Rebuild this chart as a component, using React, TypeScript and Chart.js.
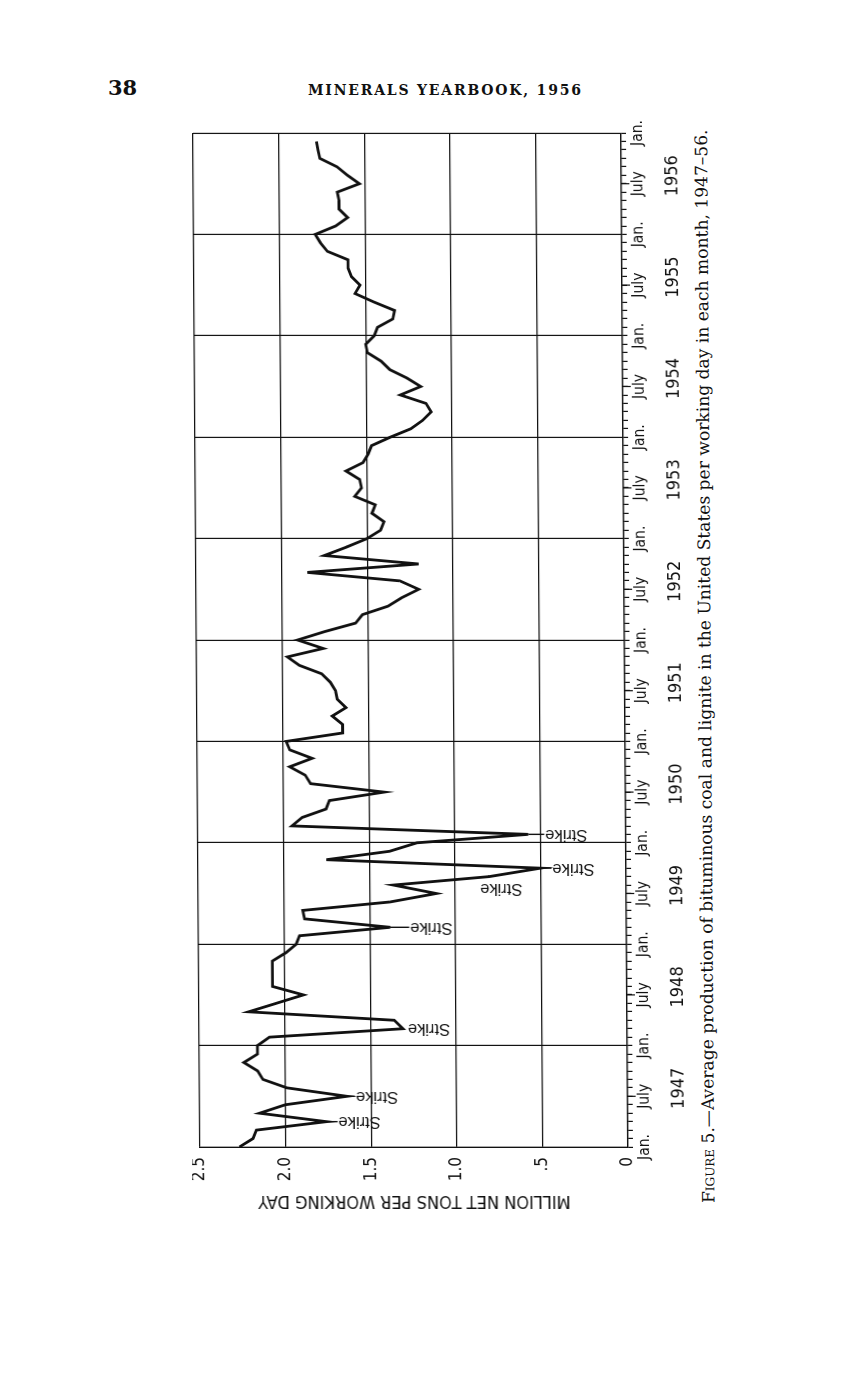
import React, { useEffect, useRef } from 'react';
import { Chart, registerables } from 'chart.js';

Chart.register(...registerables);

// ---- data (million net tons per working day, monthly, Jan 1947 = index 0) ----
const y1947 = [2.27, 2.19, 2.17, 1.76, 2.15, 2.0, 1.64, 1.99, 2.13, 2.16, 2.24, 2.16];
const y1948 = [2.16, 2.09, 1.31, 1.36, 2.21, 2.05, 1.89, 2.07, 2.07, 2.07, 2.07, 1.99];
const y1949 = [1.93, 1.91, 1.38, 1.88, 1.89, 1.38, 1.11, 1.36, 0.8, 0.5, 1.75, 1.38];
const y1950 = [1.22, 0.57, 1.95, 1.89, 1.75, 1.73, 1.41, 1.84, 1.87, 1.96, 1.83, 1.96];
const y1951 = [1.98, 1.65, 1.65, 1.71, 1.63, 1.68, 1.69, 1.72, 1.77, 1.9, 1.97, 1.76];
const y1952 = [1.91, 1.75, 1.57, 1.53, 1.38, 1.3, 1.2, 1.31, 1.85, 1.2, 1.75, 1.62];
const y1953 = [1.5, 1.42, 1.4, 1.47, 1.45, 1.57, 1.53, 1.54, 1.62, 1.52, 1.49, 1.47];
const y1954 = [1.36, 1.24, 1.17, 1.12, 1.15, 1.3, 1.18, 1.26, 1.36, 1.41, 1.49, 1.5];
const y1955 = [1.45, 1.43, 1.34, 1.33, 1.45, 1.56, 1.53, 1.58, 1.6, 1.6, 1.72, 1.76];
const y1956 = [1.79, 1.67, 1.6, 1.65, 1.65, 1.66, 1.53, 1.6, 1.66, 1.76, 1.77, 1.78];

const SERIES = [...y1947, ...y1948, ...y1949, ...y1950, ...y1951, ...y1952, ...y1953, ...y1954, ...y1955, ...y1956];

const YEARS = ['1947', '1948', '1949', '1950', '1951', '1952', '1953', '1954', '1955', '1956'];
const MONTH_NAMES: Record<number, string> = { 0: 'Jan.', 6: 'July' };
const VALUE_TICKS = [0, 0.5, 1, 1.5, 2, 2.5];
const VALUE_LABELS = ['0', '.5', '1.0', '1.5', '2.0', '2.5'];
const STRIKE_MONTHS = [3, 6, 14, 26, 30, 33, 37];
const STRIKE_TEXT = 'Strike';
const AXIS_TITLE = 'MILLION NET TONS PER WORKING DAY';

// ---- layout / style (landscape drawing, then turned a quarter turn) ----
const CW = 1096;
const CH = 496;
const A_L = 70;
const A_T = 8;
const PAD_R = 12;
const X_AXIS_H = 60;
const SKEW_K = 7 / 1014;
const XO = 200 - A_T + SKEW_K * A_L;
const YO = 1147 + A_L;
const INK = '#111';
const NARROW = "'Liberation Sans Narrow', 'DejaVu Sans Condensed', 'Liberation Sans', sans-serif";
const SANS = "'Liberation Sans', Arial, sans-serif";
// per strike label: [dash length, gap, shift along time axis]
const STRIKE_LAYOUT = [
  [11, 1, 0],
  [8, 1, 0],
  [0, 5, 0],
  [19, 1, 0],
  [0, 44, 5],
  [11, 1, 0],
  [16, 1, 0],
];

const MONTH_TICKS = Array.from({ length: 121 }, (_, i) => i);

const annotPlugin = {
  id: 'annot',
  afterDraw(chart: any) {
    const { ctx, chartArea } = chart;
    const xs = chart.scales.x;
    const ys = chart.scales.y;
    ctx.save();
    ctx.fillStyle = INK;
    ctx.strokeStyle = INK;
    // longer tick marks at July
    ctx.lineWidth = 1.2;
    for (let i = 0; i < YEARS.length; i++) {
      const px = xs.getPixelForValue(12 * i + 6);
      ctx.beginPath();
      ctx.moveTo(px, chartArea.bottom);
      ctx.lineTo(px, chartArea.bottom + 8);
      ctx.stroke();
    }
    ctx.lineWidth = 1.4;
    ctx.font = `16.5px ${SANS}`;
    STRIKE_MONTHS.forEach((m, i) => {
      const [dash, gap, shift] = STRIKE_LAYOUT[i];
      const px = xs.getPixelForValue(m) + shift;
      const py = ys.getPixelForValue(SERIES[m]);
      if (dash > 0) {
        ctx.beginPath();
        ctx.moveTo(px, py);
        ctx.lineTo(px, py + dash);
        ctx.stroke();
      }
      ctx.save();
      ctx.translate(px, py + dash + gap);
      ctx.rotate(-Math.PI / 2);
      ctx.textAlign = 'right';
      ctx.textBaseline = 'middle';
      ctx.fillText(STRIKE_TEXT, 0, 0);
      ctx.restore();
    });
    ctx.font = `18px ${NARROW}`;
    ctx.textAlign = 'center';
    ctx.textBaseline = 'top';
    YEARS.forEach((yr, i) => {
      const px = xs.getPixelForValue(12 * i + 6) + 8;
      ctx.fillText(yr, px, chartArea.bottom + 42);
    });
    ctx.restore();
  },
};

export default function App() {
  const ref = useRef<HTMLCanvasElement | null>(null);

  useEffect(() => {
    if (!ref.current) return;
    const chart = new Chart(ref.current, {
      type: 'scatter',
      data: {
        datasets: [
          {
            data: SERIES.map((v, i) => ({ x: i, y: v })),
            showLine: true,
            borderColor: INK,
            borderWidth: 2.8,
            pointRadius: 0,
            pointHoverRadius: 0,
            fill: false,
            tension: 0,
          },
        ],
      },
      options: {
        animation: false,
        responsive: false,
        devicePixelRatio: 1,
        events: [],
        layout: { padding: { left: 0, top: A_T, right: PAD_R, bottom: 0 } },
        plugins: { legend: { display: false }, tooltip: { enabled: false }, title: { display: false } },
        scales: {
          x: {
            type: 'linear',
            position: 'bottom',
            min: 0,
            max: 120,
            afterBuildTicks: (s: any) => {
              s.ticks = MONTH_TICKS.map((v) => ({ value: v }));
            },
            afterFit: (s: any) => {
              s.height = X_AXIS_H;
              s.paddingLeft = 0;
              s.paddingRight = 0;
            },
            ticks: {
              autoSkip: false,
              maxRotation: 0,
              minRotation: 0,
              padding: 3,
              color: INK,
              font: { family: NARROW, size: 15.5 },
              callback: (v: any) => MONTH_NAMES[Number(v) % 12] ?? '',
            },
            grid: {
              color: (c: any) => (c.tick && c.tick.value % 12 === 0 ? INK : 'rgba(0,0,0,0)'),
              tickColor: INK,
              tickLength: 5,
              lineWidth: 1.2,
              drawTicks: true,
            },
            border: { display: true, color: INK, width: 1.2 },
          },
          y: {
            type: 'linear',
            position: 'left',
            min: 0,
            max: 2.5,
            afterBuildTicks: (s: any) => {
              s.ticks = VALUE_TICKS.map((v) => ({ value: v }));
            },
            afterFit: (s: any) => {
              s.width = A_L;
              s.paddingTop = 0;
              s.paddingBottom = 0;
            },
            ticks: {
              padding: 10,
              color: INK,
              font: { family: NARROW, size: 17 },
              callback: (v: any) => VALUE_LABELS[VALUE_TICKS.indexOf(Number(v))] ?? '',
            },
            grid: { color: INK, lineWidth: 1.2, drawTicks: false },
            border: { display: true, color: INK, width: 1.2 },
            title: {
              display: true,
              text: AXIS_TITLE,
              color: INK,
              font: { family: NARROW, size: 18 },
              padding: { top: 6, bottom: 0 },
            },
          },
        },
      },
      plugins: [annotPlugin],
    } as any);
    return () => chart.destroy();
  }, []);

  return (
    <div
      style={{
        position: 'absolute',
        left: 0,
        top: 0,
        width: 858,
        height: 1380,
        overflow: 'hidden',
        background: '#fff',
        color: INK,
      }}
    >
      <div
        style={{
          position: 'absolute',
          left: 108,
          top: 76,
          fontFamily: "'DejaVu Serif', serif",
          fontWeight: 'bold',
          fontSize: 21,
          lineHeight: '24px',
        }}
      >
        38
      </div>
      <div
        style={{
          position: 'absolute',
          left: 308,
          top: 81,
          fontFamily: "'DejaVu Serif', serif",
          fontWeight: 'bold',
          fontSize: 14,
          letterSpacing: 1.8,
          lineHeight: '18px',
          whiteSpace: 'nowrap',
        }}
      >
        MINERALS YEARBOOK, 1956
      </div>
      <div
        style={{
          position: 'absolute',
          left: 0,
          top: 0,
          width: CW,
          height: 560,
          transformOrigin: '0 0',
          transform: `translate(${XO}px, ${YO}px) skewX(${(Math.atan(SKEW_K) * 180) / Math.PI}deg) rotate(-90deg)`,
        }}
      >
        <canvas
          ref={ref}
          width={CW}
          height={CH}
          style={{ position: 'absolute', left: 0, top: 0, width: CW, height: CH, display: 'block' }}
        />
        <div
          style={{
            position: 'absolute',
            left: 14,
            top: 505,
            whiteSpace: 'nowrap',
            fontFamily: "'DejaVu Serif', serif",
            fontSize: 17.1,
            lineHeight: '22px',
          }}
        >
          <span style={{ fontVariant: 'small-caps' }}>Figure</span> 5.—Average production of bituminous coal and lignite in
          the United States per working day in each month, 1947–56.
        </div>
      </div>
    </div>
  );
}
